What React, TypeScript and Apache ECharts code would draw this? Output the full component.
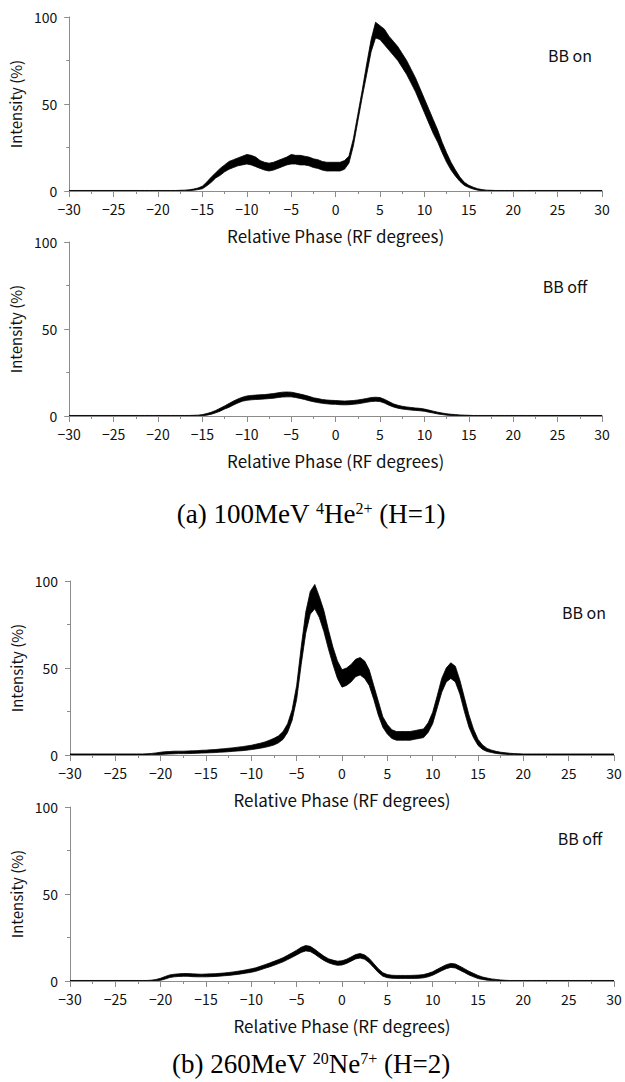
import React, { useEffect, useRef } from "react";
import * as echarts from "echarts";

// Relative phase (RF degrees) sampling positions shared by all panels
const PHASE = [
  -30, -22, -21.5, -21, -20.5, -20, -19.5, -19, -18.5, -18,
  -17.5, -17, -16.5, -16, -15.5, -15, -14.5, -14, -13.5, -13,
  -12.5, -12, -11.5, -11, -10.5, -10, -9.5, -9, -8.5, -8,
  -7.5, -7, -6.5, -6, -5.5, -5, -4.5, -4, -3.5, -3,
  -2.5, -2, -1.5, -1, -0.5, 0, 0.5, 1, 1.5, 2,
  2.5, 3, 3.5, 4, 4.5, 5, 5.5, 6, 6.5, 7,
  7.5, 8, 8.5, 9, 9.5, 10, 10.5, 11, 11.5, 12,
  12.5, 13, 13.5, 14, 14.5, 15, 15.5, 16, 16.5, 17,
  17.5, 18, 18.5, 19, 19.5, 20, 20.5, 21, 21.5, 22,
  30,
];

// (a) 100MeV He, BB on : lower / upper edge of the noisy trace (%)
const A_ON_LO = [
  0, 0, 0, 0, 0, 0, 0, 0, 0, 0,
  0, 0.1, 0.2, 0.4, 0.8, 1.3, 3, 5, 7.5, 9,
  11, 12.5, 13.5, 14.5, 15, 15.5, 15, 14, 13, 12,
  11.5, 12, 13, 14, 15, 15.5, 15.5, 15, 15, 14.5,
  13.5, 13, 12, 11.5, 11.5, 11.5, 11.5, 12.5, 16, 26,
  40, 54, 67, 80, 88, 87, 84, 81, 78, 75,
  71, 67, 62, 57, 51, 45, 39, 33, 28, 22,
  16.5, 12, 8.5, 5.5, 3.2, 2, 1.1, 0.5, 0.2, 0.1,
  0, 0, 0, 0, 0, 0, 0, 0, 0, 0,
  0,
];
const A_ON_HI = [
  0.3, 0.3, 0.3, 0.3, 0.3, 0.3, 0.3, 0.3, 0.3, 0.3,
  0.4, 0.5, 0.7, 1.1, 1.7, 2.8, 5.2, 8, 10.5, 13,
  15, 17, 18, 19, 20, 21, 20.5, 19.5, 17.5, 16.5,
  16, 16.5, 17.5, 18.5, 19.5, 21, 20.5, 20.5, 20, 19.5,
  18.5, 18, 17, 16.5, 16.5, 16.5, 16.5, 17.5, 20, 30,
  44, 58, 73, 87, 97, 95, 93, 89, 86, 83,
  79, 75, 70, 65, 59, 53, 47, 41, 35, 28,
  22, 16.5, 12, 8, 5, 3.3, 2.2, 1.3, 0.8, 0.5,
  0.4, 0.3, 0.3, 0.3, 0.3, 0.3, 0.3, 0.3, 0.3, 0.3,
  0.3,
];

// (a) BB off
const A_OFF_LO = [
  0, 0, 0, 0, 0, 0, 0, 0, 0, 0,
  0, 0, 0, 0, 0.1, 0.2, 0.5, 1, 1.8, 2.8,
  4, 5, 6.3, 7.5, 8.5, 9, 9.3, 9.5, 9.6, 9.8,
  10, 10.2, 10.6, 10.9, 11, 11, 10.6, 10.1, 9.5, 8.8,
  8.2, 7.7, 7.3, 7, 6.8, 6.7, 6.5, 6.4, 6.5, 6.7,
  7, 7.4, 7.9, 8.3, 8.5, 8.3, 7.4, 6.2, 5.2, 4.5,
  4, 3.7, 3.4, 3.2, 3, 2.7, 2.2, 1.7, 1.2, 0.8,
  0.5, 0.3, 0.2, 0.1, 0, 0, 0, 0, 0, 0,
  0, 0, 0, 0, 0, 0, 0, 0, 0, 0,
  0,
];
const A_OFF_HI = [
  0.3, 0.3, 0.3, 0.3, 0.3, 0.3, 0.3, 0.3, 0.3, 0.3,
  0.3, 0.3, 0.3, 0.4, 0.5, 0.8, 1.4, 2.2, 3.2, 4.5,
  5.8, 7.2, 8.6, 9.8, 10.8, 11.5, 11.8, 12, 12.2, 12.3,
  12.6, 12.9, 13.3, 13.7, 13.8, 13.7, 13.2, 12.6, 12, 11.3,
  10.5, 10, 9.5, 9.2, 9, 8.9, 8.7, 8.6, 8.7, 8.9,
  9.2, 9.6, 10.1, 10.6, 10.8, 10.6, 9.6, 8.3, 7, 6.2,
  5.6, 5.2, 4.9, 4.6, 4.4, 4, 3.4, 2.8, 2.2, 1.7,
  1.3, 1, 0.8, 0.6, 0.5, 0.4, 0.3, 0.3, 0.3, 0.3,
  0.3, 0.3, 0.3, 0.3, 0.3, 0.3, 0.3, 0.3, 0.3, 0.3,
  0.3,
];

// (b) 260MeV Ne, BB on
const B_ON_LO = [
  0, 0, 0, 0.1, 0.2, 0.3, 0.5, 0.6, 0.7, 0.8,
  0.8, 0.8, 0.9, 1, 1.1, 1.2, 1.3, 1.4, 1.6, 1.7,
  1.9, 2.1, 2.3, 2.5, 2.8, 3.1, 3.5, 3.9, 4.4, 5,
  5.8, 7, 9, 13, 20, 32, 52, 70, 81, 84,
  79, 71, 61, 52, 44, 39, 40, 42, 45, 46,
  44, 40, 32, 23, 16, 12, 9.5, 8.5, 8.5, 8.5,
  8.5, 9, 9.5, 10, 13, 18, 27, 36, 42, 44,
  42, 35, 25, 16, 10, 5.5, 3.2, 2, 1.4, 0.9,
  0.6, 0.4, 0.2, 0.1, 0, 0, 0, 0, 0, 0,
  0,
];
const B_ON_HI = [
  0.6, 0.6, 0.7, 0.9, 1.2, 1.6, 1.9, 2, 2.2, 2.2,
  2.2, 2.3, 2.4, 2.5, 2.7, 2.8, 3, 3.1, 3.4, 3.6,
  3.9, 4.1, 4.5, 4.8, 5.2, 5.6, 6.2, 6.8, 7.5, 8.5,
  9.6, 11, 13.5, 18, 26, 40, 62, 82, 94, 98,
  91, 83, 72, 62, 54, 49, 50, 52, 55, 56,
  54, 49, 40, 31, 22, 17.5, 14.5, 13.5, 13.5, 13.5,
  13.5, 14, 14.5, 15, 18.5, 24.5, 34, 44, 50, 53,
  51, 43, 33, 23, 15, 9, 5.8, 3.8, 2.8, 2.1,
  1.6, 1.3, 1, 0.8, 0.7, 0.6, 0.6, 0.6, 0.6, 0.6,
  0.6,
];

// (b) BB off
const B_OFF_LO = [
  0, 0, 0, 0, 0.2, 0.4, 1.1, 2, 2.4, 2.6,
  2.7, 2.7, 2.5, 2.4, 2.4, 2.4, 2.5, 2.6, 2.8, 3,
  3.2, 3.5, 3.8, 4.2, 4.6, 5, 5.6, 6.4, 7.3, 8.1,
  9, 10, 11, 12.3, 13.6, 15, 16.4, 17.3, 16.9, 15.4,
  13.5, 11.8, 10.5, 9.6, 9, 9.2, 10.1, 11.4, 12.7, 13.2,
  12.5, 10.5, 7.7, 4.9, 2.8, 1.9, 1.6, 1.5, 1.5, 1.5,
  1.5, 1.5, 1.6, 1.8, 2.4, 3.3, 4.6, 5.9, 7.1, 7.8,
  7.5, 6.2, 4.9, 3.5, 2.4, 1.4, 0.9, 0.5, 0.3, 0.1,
  0, 0, 0, 0, 0, 0, 0, 0, 0, 0,
  0,
];
const B_OFF_HI = [
  0.3, 0.3, 0.3, 0.5, 0.9, 1.6, 2.6, 3.5, 3.9, 4.1,
  4.3, 4.3, 4.1, 4, 3.9, 4, 4.1, 4.2, 4.4, 4.6,
  4.9, 5.2, 5.6, 6, 6.5, 7, 7.6, 8.5, 9.4, 10.3,
  11.3, 12.3, 13.4, 14.8, 16.2, 17.7, 19.4, 20.4, 19.9, 18.2,
  16.2, 14.3, 12.8, 12, 11.4, 11.6, 12.5, 13.8, 15.2, 15.8,
  15, 13, 10, 7.1, 4.8, 3.7, 3.3, 3.2, 3.2, 3.2,
  3.2, 3.3, 3.4, 3.7, 4.4, 5.3, 6.7, 8.1, 9.4, 10.1,
  9.8, 8.5, 7.1, 5.6, 4.4, 3.2, 2.3, 1.7, 1.2, 0.9,
  0.6, 0.4, 0.3, 0.3, 0.3, 0.3, 0.3, 0.3, 0.3, 0.3,
  0.3,
];

const PANEL_LABELS = ["BB on", "BB off", "BB on", "BB off"];
const X_TITLE = "Relative Phase (RF degrees)";
const Y_TITLE = "Intensity (%)";
const CAPTION_A = "(a) 100MeV {sup|4}He{sup|2+} (H=1)";
const CAPTION_B = "(b) 260MeV {sup|20}Ne{sup|7+} (H=2)";

const SANS = '"Noto Sans CJK JP", "Noto Sans", sans-serif';
const SERIF = '"Liberation Serif", "DejaVu Serif", serif';
const AXIS_COLOR = "#8c8c8c";
const TEXT_COLOR = "#111";

const GRIDS = [
  { left: 64, top: 17, width: 538, height: 174 },
  { left: 64, top: 242, width: 538, height: 174 },
  { left: 70, top: 581, width: 544, height: 174 },
  { left: 70, top: 807, width: 544, height: 174 },
];
const LABEL_POS = [
  [570, 55],
  [565, 286],
  [584, 612],
  [580, 838],
];

export default function App() {
  const ref = useRef<HTMLDivElement>(null);

  useEffect(() => {
    if (!ref.current) return;
    const chart = echarts.init(ref.current, null, { renderer: "svg" });
    const traces = [
      [A_ON_LO, A_ON_HI],
      [A_OFF_LO, A_OFF_HI],
      [B_ON_LO, B_ON_HI],
      [B_OFF_LO, B_OFF_HI],
    ];

    const xAxes = GRIDS.map((_, i) => ({
      gridIndex: i,
      type: "value",
      min: -30,
      max: 30,
      interval: 5,
      axisLine: { show: true, onZero: false, lineStyle: { color: AXIS_COLOR, width: 1 } },
      axisTick: { show: true, length: 6, lineStyle: { color: AXIS_COLOR } },
      minorTick: { show: true, splitNumber: 2, length: 3, lineStyle: { color: AXIS_COLOR } },
      splitLine: { show: false },
      axisLabel: {
        margin: 11,
        color: TEXT_COLOR,
        fontSize: 14,
        fontFamily: SANS,
        formatter: (v: number) => String(v).replace("-", "\u2212"),
      },
      name: X_TITLE,
      nameLocation: "middle",
      nameGap: 36,
      nameTextStyle: { color: TEXT_COLOR, fontSize: 17, fontFamily: SANS },
    }));

    const yAxes = GRIDS.map((_, i) => ({
      gridIndex: i,
      type: "value",
      min: 0,
      max: 100,
      interval: 50,
      axisLine: { show: true, onZero: false, lineStyle: { color: AXIS_COLOR, width: 1 } },
      axisTick: { show: true, length: 5, lineStyle: { color: AXIS_COLOR } },
      minorTick: { show: true, splitNumber: 2, length: 3, lineStyle: { color: AXIS_COLOR } },
      splitLine: { show: false },
      axisLabel: { margin: 12, color: TEXT_COLOR, fontSize: 14, fontFamily: SANS },
      name: Y_TITLE,
      nameLocation: "middle",
      nameRotate: 90,
      nameGap: 30,
      nameTextStyle: { color: TEXT_COLOR, fontSize: 15, fontFamily: SANS },
    }));

    const series: any[] = traces.map(([lo, hi], i) => ({
      type: "custom",
      xAxisIndex: i,
      yAxisIndex: i,
      silent: true,
      clip: true,
      data: PHASE.map((x, k) => [x, lo[k], hi[k]]),
      encode: { x: 0, y: [1, 2] },
      renderItem: (params: any, api: any) => {
        if (params.dataIndex !== 0) return null;
        const upper = PHASE.map((x, k) => api.coord([x, hi[k]]));
        const lower = PHASE.map((x, k) => api.coord([x, lo[k]])).reverse();
        return {
          type: "polygon",
          shape: { points: upper.concat(lower) },
          style: { fill: "#000", stroke: "#000", lineWidth: 0.8 },
        };
      },
    }));

    const graphics: any[] = LABEL_POS.map(([x, y], i) => ({
      type: "text",
      x,
      y,
      style: {
        text: PANEL_LABELS[i],
        fill: TEXT_COLOR,
        fontSize: 16,
        fontFamily: SANS,
        align: "center",
        verticalAlign: "middle",
      },
    }));
    const capStyle = (text: string) => ({
      text,
      fill: "#000",
      fontSize: 27,
      fontFamily: SERIF,
      align: "center",
      verticalAlign: "middle",
      rich: {
        sup: { fontSize: 16, fontFamily: SERIF, verticalAlign: "top", fill: "#000" },
      },
    });
    graphics.push({ type: "text", x: 311, y: 514, style: capStyle(CAPTION_A) });
    graphics.push({ type: "text", x: 311, y: 1064, style: capStyle(CAPTION_B) });

    chart.setOption({
      animation: false,
      backgroundColor: "#fff",
      grid: GRIDS.map((g) => ({ ...g, containLabel: false })),
      xAxis: xAxes,
      yAxis: yAxes,
      series,
      graphic: graphics,
    });
    return () => chart.dispose();
  }, []);

  return (
    <div
      ref={ref}
      style={{ position: "absolute", left: 0, top: 0, width: 625, height: 1082 }}
    />
  );
}
